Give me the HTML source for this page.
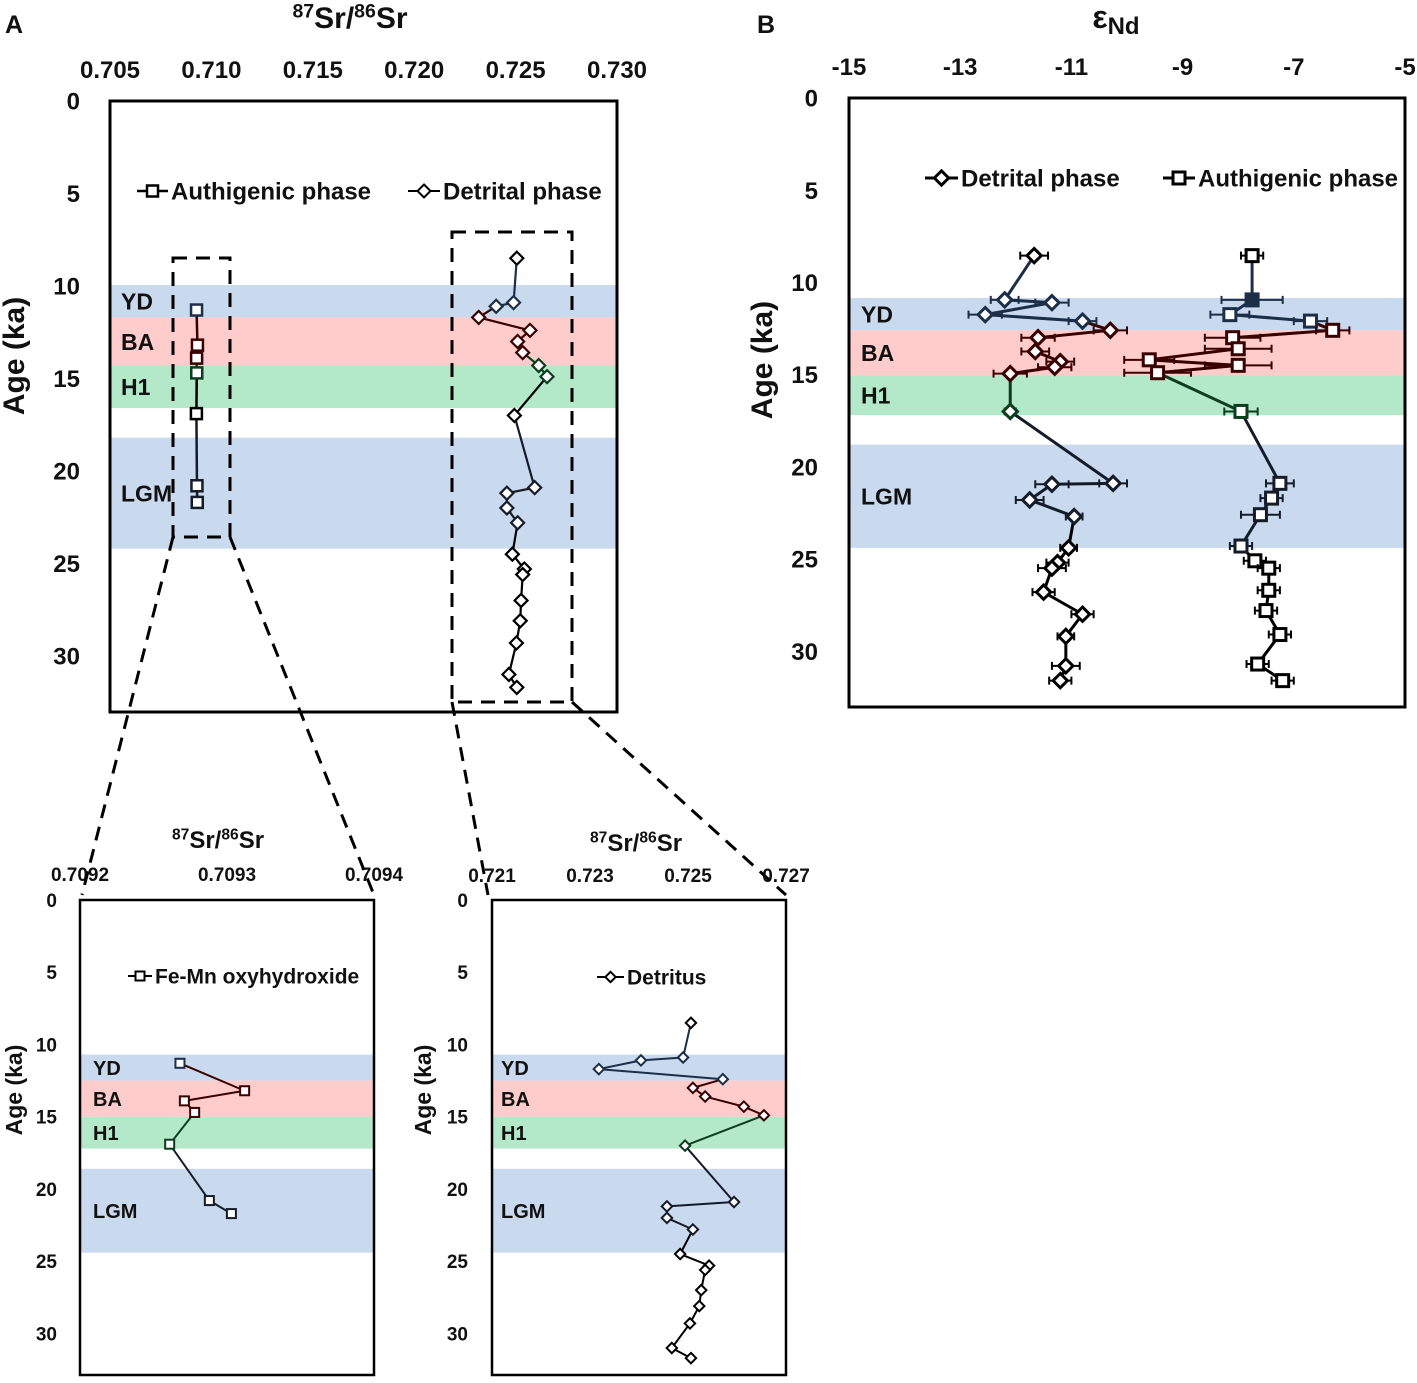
<!DOCTYPE html>
<html><head><meta charset="utf-8"><style>
html,body{margin:0;padding:0;background:#fff;}
svg{display:block;font-family:"Liberation Sans",Arial,sans-serif;font-weight:bold;}
</style></head><body>
<svg id="fig" width="1417" height="1383" viewBox="0 0 1417 1383" xmlns="http://www.w3.org/2000/svg"></svg>
<script>
// ---- data ----
const authAges=[11.3,13.2,13.9,14.7,16.9,20.8,21.7];
const authSr=[0.709268,0.709312,0.709271,0.709278,0.709261,0.709288,0.709303];
const detAges=[8.5,10.9,11.1,11.7,12.4,13.0,13.6,14.3,14.9,17.0,20.9,21.2,22.0,22.8,24.5,25.3,25.6,27.0,28.1,29.3,31.0,31.7];
const detSr=[0.72506,0.72490,0.72404,0.72318,0.72571,0.72510,0.72535,0.72614,0.72655,0.72494,0.72594,0.72457,0.72457,0.72510,0.72484,0.72543,0.72535,0.72527,0.72523,0.72504,0.72467,0.72506];
const bDetAges=[8.55,10.95,11.1,11.75,12.1,12.6,13.0,13.75,14.3,14.6,14.95,17.0,20.9,20.95,21.8,22.7,24.4,25.2,25.5,26.8,28.0,29.2,30.8,31.6];
const bDetNd=[-11.67,-12.2,-11.35,-12.55,-10.8,-10.3,-11.6,-11.65,-11.2,-11.3,-12.1,-12.1,-10.25,-11.35,-11.75,-10.95,-11.05,-11.25,-11.35,-11.5,-10.8,-11.1,-11.1,-11.2];
const bDetErr=[0.25,0.25,0.3,0.3,0.25,0.3,0.3,0.25,0.25,0.3,0.3,0.1,0.25,0.3,0.25,0.15,0.15,0.2,0.25,0.2,0.2,0.15,0.25,0.2];
const bAutAges=[8.55,10.95,11.75,12.1,12.6,13.0,13.6,14.2,14.5,14.9,17.0,20.9,21.7,22.6,24.3,25.1,25.5,26.7,27.8,29.1,30.7,31.6];
const bAutNd=[-7.75,-7.75,-8.15,-6.7,-6.3,-8.1,-8.0,-9.6,-8.0,-9.45,-7.95,-7.25,-7.4,-7.6,-7.95,-7.7,-7.45,-7.45,-7.5,-7.25,-7.65,-7.2];
const bAutErr=[0.2,0.55,0.35,0.3,0.3,0.5,0.6,0.45,0.6,0.6,0.3,0.25,0.2,0.35,0.2,0.2,0.2,0.2,0.2,0.2,0.2,0.2];
const bandNames=["YD","BA","H1","LGM"];
const xTicksA=[0.705,0.710,0.715,0.720,0.725,0.730];
const xTicksIA=[0.7092,0.7093,0.7094];
const xTicksID=[0.721,0.723,0.725,0.727];
const xTicksB=[-15,-13,-11,-9,-7,-5];
const yTicks=[0,5,10,15,20,25,30];

const NS="http://www.w3.org/2000/svg";
const svg=document.getElementById('fig');
function mk(tag,attrs,parent){const e=document.createElementNS(NS,tag);for(const k in attrs)e.setAttribute(k,attrs[k]);(parent||svg).appendChild(e);return e;}
const bandFill=["#c9d9ee","#ffcccc","#b3e8c8","#c9d9ee"];
const bandLine=["#1c2f48","#3a0000","#0d3d1f","#141c2a"];

function panel(cfg){
  const g=mk('g',{});
  
  
  const sx=v=>cfg.x0+(v-cfg.xmin)/(cfg.xmax-cfg.xmin)*(cfg.x1-cfg.x0);
  const sy=a=>cfg.y0+(a-0)/(cfg.ymax)*(cfg.y1-cfg.y0);
  cfg.sx=sx;cfg.sy=sy;
  cfg.bands.forEach((b,i)=>{
    const r=mk('rect',{x:cfg.x0,y:sy(b[0]),width:cfg.x1-cfg.x0,height:sy(b[1])-sy(b[0]),fill:bandFill[i]},g);
    
    
    const t=mk('text',{x:cfg.x0+cfg.bandDx,y:(sy(b[0])+sy(b[1]))/2+cfg.bfs*0.36,'font-size':cfg.bfs,fill:'#111'},g);
    t.textContent=bandNames[i];
    
    
  });
  const bx=mk('rect',{x:cfg.x0,y:cfg.y0,width:cfg.x1-cfg.x0,height:cfg.y1-cfg.y0,fill:'none',stroke:'#000','stroke-width':cfg.sw},g);
  
  
  cfg.xTicks.forEach(v=>{
    const t=mk('text',{x:sx(v),y:cfg.xLabY,'font-size':cfg.fs,'text-anchor':'middle',fill:'#111'},g);
    t.textContent=cfg.fmt(v);
    
    
  });
  yTicks.forEach(v=>{
    const t=mk('text',{x:cfg.yLabX,y:sy(v)+cfg.fs*0.36,'font-size':cfg.fs,'text-anchor':'end',fill:'#111'},g);
    t.textContent=v;
    
    
  });
  const yt=mk('text',{x:cfg.yTitleX,y:cfg.yTitleY,'font-size':cfg.titleFs,'text-anchor':'middle',fill:'#111',transform:`rotate(-90 ${cfg.yTitleX} ${cfg.yTitleY})`},g);
  yt.textContent='Age (ka)';
  
  
  return g;
}
function bandIdx(cfg,a){for(let i=0;i<cfg.bands.length;i++){if(a>=cfg.bands[i][0]&&a<cfg.bands[i][1])return i;}return -1;}
function colorOf(cfg,a){const i=bandIdx(cfg,a);return i<0?cfg.base:bandLine[i];}
function marker(g,shape,x,y,s,col,fill,sw){
  let m;
  if(shape==='sq')m=mk('rect',{x:x-s,y:y-s,width:2*s,height:2*s,fill:fill,stroke:col,'stroke-width':sw},g);
  else m=mk('polygon',{points:`${x},${y-s*1.3} ${x+s*1.3},${y} ${x},${y+s*1.3} ${x-s*1.3},${y}`,fill:fill,stroke:col,'stroke-width':sw},g);
  return m;
}
function series(cfg,g,ages,vals,shape,s,lw,name,errs,filledIdx){
  const sg=mk('g',{},g);
  
  
  for(let i=1;i<ages.length;i++){
    const l=mk('line',{x1:cfg.sx(vals[i-1]),y1:cfg.sy(ages[i-1]),x2:cfg.sx(vals[i]),y2:cfg.sy(ages[i]),stroke:colorOf(cfg,ages[i]),'stroke-width':lw},sg);
    
    
  }
  ages.forEach((a,i)=>{
    const c=colorOf(cfg,a),x=cfg.sx(vals[i]),y=cfg.sy(a);
    if(errs){
      const xa=cfg.sx(vals[i]-errs[i]),xb=cfg.sx(vals[i]+errs[i]);
      const e=mk('path',{d:`M${xa},${y}H${xb}M${xa},${y-4}V${y+4}M${xb},${y-4}V${y+4}`,stroke:c,'stroke-width':2,fill:'none'},sg);
      
      
    }
    const m=marker(sg,shape,x,y,s,c,(filledIdx===i)?c:'#fff',lw);
    
    
  });
}
function legend(g,shape,x1,x2,y,s,lw,label,fs,name){
  const lg=mk('g',{},g);
  
  
  mk('line',{x1:x1,y1:y,x2:x2,y2:y,stroke:'#000','stroke-width':lw},lg);
  marker(lg,shape,(x1+x2)/2,y,s,'#000','#fff',lw);
  const t=mk('text',{x:x2+3,y:y+fs*0.36,'font-size':fs,fill:'#111'},lg);
  t.textContent=label;
}
function title(x,y,fs,name){
  const t=mk('text',{x:x,y:y,'font-size':fs,'text-anchor':'middle',fill:'#111'});
  
  
  t.innerHTML=`<tspan font-size="${fs*0.65}" dy="-${fs*0.35}">87</tspan><tspan dy="${fs*0.35}">Sr/</tspan><tspan font-size="${fs*0.65}" dy="-${fs*0.35}">86</tspan><tspan dy="${fs*0.35}">Sr</tspan>`;
}

// Panel A main
const A={name:'panel-a-main',x0:110,x1:617,y0:101,y1:712,xmin:0.705,xmax:0.730,ymax:33.03,
 bands:[[9.95,11.7],[11.7,14.3],[14.3,16.6],[18.2,24.2]],bandDx:11,fs:24,bfs:23,sw:3,xTicks:xTicksA,fmt:v=>v.toFixed(3),
 xLabY:78,yLabX:80,yTitleX:24,yTitleY:356,titleFs:30,base:'#000'};
const gA=panel(A);
series(A,gA,authAges,authSr,'sq',5.5,2.5,'authigenic-series-a');
series(A,gA,detAges,detSr,'di',5,2.2,'detrital-series-a');
legend(gA,'sq',137,168,191,5.5,2.5,'Authigenic phase',24,'legend-authigenic');
legend(gA,'di',408,440,191,5,2,'Detrital phase',24,'legend-detrital');
title(350,28,30,'x-axis-title-a');

// Inset authigenic
const IA={name:'inset-authigenic',x0:80,x1:374,y0:900,y1:1375,xmin:0.7092,xmax:0.7094,ymax:32.87,
 bands:[[10.7,12.5],[12.5,15.0],[15.0,17.2],[18.6,24.4]],bandDx:13,fs:19,bfs:20,sw:2.5,xTicks:xTicksIA,fmt:v=>v.toFixed(4),
 xLabY:881,yLabX:57,yTitleX:22,yTitleY:1090,titleFs:23,base:'#000'};
const gIA=panel(IA);
series(IA,gIA,authAges,authSr,'sq',4.5,2,'authigenic-series-inset');
legend(gIA,'sq',128,152,976,4.5,2,'Fe-Mn oxyhydroxide',21,'legend-fe-mn');
title(218,848,24,'x-axis-title-inset-authigenic');

// Inset detrital
const ID={name:'inset-detrital',x0:492,x1:786,y0:900,y1:1375,xmin:0.721,xmax:0.727,ymax:32.87,
 bands:[[10.7,12.5],[12.5,15.0],[15.0,17.2],[18.6,24.4]],bandDx:9,fs:19,bfs:20,sw:2.5,xTicks:xTicksID,fmt:v=>v.toFixed(3),
 xLabY:882,yLabX:468,yTitleX:431,yTitleY:1090,titleFs:23,base:'#000'};
const gID=panel(ID);
series(ID,gID,detAges,detSr,'di',4,2,'detrital-series-inset');
legend(gID,'di',597,624,977,4,2,'Detritus',21,'legend-detritus');
title(636,851,24,'x-axis-title-inset-detrital');

// Panel B
const B={name:'panel-b',x0:849,x1:1405,y0:98,y1:707,xmin:-15,xmax:-5,ymax:33.03,
 bands:[[10.85,12.6],[12.6,15.05],[15.05,17.2],[18.8,24.4]],bandDx:12,fs:24,bfs:23,sw:3,xTicks:xTicksB,fmt:v=>String(v),
 xLabY:75,yLabX:818,yTitleX:772,yTitleY:360,titleFs:30,base:'#000'};
const gB=panel(B);
series(B,gB,bDetAges,bDetNd,'di',5.5,3,'detrital-series-b',bDetErr);
series(B,gB,bAutAges,bAutNd,'sq',6,3,'authigenic-series-b',bAutErr,1);
legend(gB,'di',925,958,178,5.5,3,'Detrital phase',24,'legend-detrital-b');
legend(gB,'sq',1163,1195,178,6,3,'Authigenic phase',24,'legend-authigenic-b');
const eps=mk('text',{x:1116,y:28,'font-size':32,'text-anchor':'middle',fill:'#111'});


eps.innerHTML='ε<tspan font-size="24" dy="6">Nd</tspan>';

// panel letters
[['A',5,33],['B',757,33]].forEach(p=>{
  const t=mk('text',{x:p[1],y:p[2],'font-size':25,fill:'#111'});
  t.textContent=p[0];
  
  
});

// zoom boxes and connectors
const zg=mk('g',{fill:'none',stroke:'#000','stroke-width':3,'stroke-dasharray':'14 9'});


mk('rect',{x:173,y:258,width:57,height:279},zg);
mk('rect',{x:452,y:232,width:120,height:470},zg);
mk('line',{x1:173,y1:537,x2:82,y2:895},zg);
mk('line',{x1:230,y1:537,x2:374,y2:895},zg);
mk('line',{x1:452,y1:702,x2:488,y2:895},zg);
mk('line',{x1:572,y1:702,x2:786,y2:895},zg);
</script>
</body></html>
